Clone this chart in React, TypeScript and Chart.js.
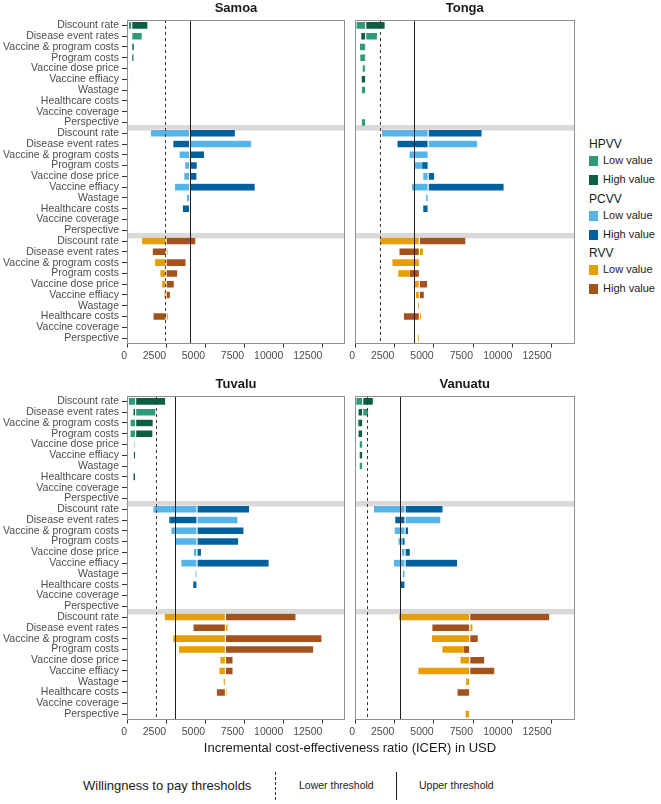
import React, { useEffect, useRef } from 'react';
import { Chart, registerables } from 'chart.js';

Chart.register(...registerables);

const FONT = "'Liberation Sans', Arial, sans-serif";

// Parameters varied in the one-way sensitivity analysis (rows of every vaccine block)
const parameters = [
  'Discount rate',
  'Disease event rates',
  'Vaccine & program costs',
  'Program costs',
  'Vaccine dose price',
  'Vaccine effiacy',
  'Wastage',
  'Healthcare costs',
  'Vaccine coverage',
  'Perspective',
];
const vaccines = ['HPVV', 'PCVV', 'RVV'];
const xTickValues = [0, 2500, 5000, 7500, 10000, 12500];
const xAxisMax = 13950;

// ICER (USD) at base case, and with each parameter at its low / high value
// Samoa
const samoaBase = [300, 4010, 2500];
const samoaHpvvLow = [85, 980, 240, 250, 280, 300, 300, 340, 300, 300];
const samoaHpvvHigh = [1340, 260, 470, 450, 360, 380, 300, 300, 300, 300];
const samoaPcvvLow = [1490, 7980, 3330, 3690, 3630, 3030, 3800, 4010, 4010, 4060];
const samoaPcvvHigh = [6940, 2930, 4970, 4500, 4480, 8210, 4010, 3540, 4010, 4010];
const samoaRvvLow = [930, 2630, 1760, 2100, 2210, 2360, 2420, 2650, 2500, 2580];
const samoaRvvHigh = [4410, 1610, 3780, 3250, 3030, 2780, 2500, 1660, 2500, 2500];
const samoaThresholds = [2440, 4010];

// Tonga
const tongaBase = [680, 4650, 4090];
const tongaHpvvLow = [60, 1430, 280, 300, 450, 680, 400, 680, 680, 400];
const tongaHpvvHigh = [1920, 360, 575, 575, 600, 390, 680, 680, 680, 680];
const tongaPcvvLow = [1680, 7800, 3430, 3730, 4300, 3580, 4480, 4650, 4650, 4600];
const tongaPcvvHigh = [8080, 2660, 4700, 4240, 5070, 9480, 4650, 4300, 4650, 4650];
const tongaRvvLow = [1560, 4350, 2340, 2710, 3750, 3840, 3960, 4220, 4090, 3960];
const tongaRvvHigh = [7050, 2790, 3990, 3450, 4620, 4410, 4090, 3070, 4090, 4090];
const tongaThresholds = [1620, 3730];

// Tuvalu
const tuvaluBase = [550, 4480, 6300];
const tuvaluHpvvLow = [85, 1850, 190, 190, 450, 550, 470, 550, 550, 470];
const tuvaluHpvvHigh = [2480, 380, 1680, 1660, 550, 400, 550, 380, 550, 550];
const tuvaluPcvvLow = [1660, 7110, 2800, 3080, 4240, 3440, 4350, 4480, 4480, 4480];
const tuvaluPcvvHigh = [7850, 2670, 7490, 7150, 4770, 9100, 4480, 4200, 4480, 4480];
const tuvaluRvvLow = [2380, 6470, 2930, 3290, 5940, 5880, 6150, 6410, 6300, 6240];
const tuvaluRvvHigh = [10820, 4220, 12480, 11950, 6790, 6790, 6300, 5710, 6300, 6300];
const tuvaluThresholds = [1870, 3060];

// Vanuatu
const vanuatuBase = [490, 3180, 7290];
const vanuatuHpvvLow = [45, 870, 150, 490, 260, 490, 260, 490, 490, 490];
const vanuatuHpvvHigh = [1170, 190, 235, 190, 490, 260, 490, 490, 490, 490];
const vanuatuPcvvLow = [1170, 5460, 2490, 2730, 2940, 2430, 3000, 3180, 3130, 3130];
const vanuatuPcvvHigh = [5600, 2520, 3410, 3000, 3520, 6520, 3180, 2860, 3180, 3180];
const vanuatuRvvLow = [2770, 7500, 4860, 5520, 6670, 3990, 7030, 7370, 7290, 6990];
const vanuatuRvvHigh = [12380, 4880, 7840, 6880, 8250, 8890, 7290, 6480, 7290, 7290];
const vanuatuThresholds = [750, 2830];

const lowColors = ['#2f9a7b', '#56b4e9', '#e69f00'];
const highColors = ['#0d5e45', '#00619c', '#a3521c'];

type PanelSpec = {
  country: string;
  base: number[];
  lows: number[][];
  highs: number[][];
  thresholds: number[];
  showY: boolean;
  left: number;
  top: number;
};

const CANVAS_H = 372;
const LEFT_W = 352;
const RIGHT_W = 235;

const panels: PanelSpec[] = [
  {
    country: 'Samoa', base: samoaBase,
    lows: [samoaHpvvLow, samoaPcvvLow, samoaRvvLow],
    highs: [samoaHpvvHigh, samoaPcvvHigh, samoaRvvHigh],
    thresholds: samoaThresholds, showY: true, left: 0, top: 0,
  },
  {
    country: 'Tonga', base: tongaBase,
    lows: [tongaHpvvLow, tongaPcvvLow, tongaRvvLow],
    highs: [tongaHpvvHigh, tongaPcvvHigh, tongaRvvHigh],
    thresholds: tongaThresholds, showY: false, left: 345, top: 0,
  },
  {
    country: 'Tuvalu', base: tuvaluBase,
    lows: [tuvaluHpvvLow, tuvaluPcvvLow, tuvaluRvvLow],
    highs: [tuvaluHpvvHigh, tuvaluPcvvHigh, tuvaluRvvHigh],
    thresholds: tuvaluThresholds, showY: true, left: 0, top: 376,
  },
  {
    country: 'Vanuatu', base: vanuatuBase,
    lows: [vanuatuHpvvLow, vanuatuPcvvLow, vanuatuRvvLow],
    highs: [vanuatuHpvvHigh, vanuatuPcvvHigh, vanuatuRvvHigh],
    thresholds: vanuatuThresholds, showY: false, left: 345, top: 376,
  },
];

// Draws the block separators, threshold lines, panel frame and panel title
const panelDecor = {
  id: 'panelDecor',
  beforeDatasetsDraw(chart: any, _args: any, opts: any) {
    const { ctx, chartArea: a, scales } = chart;
    const y = scales.y;
    ctx.save();
    ctx.fillStyle = '#d9d9d9';
    for (let g = 1; g < vaccines.length; g++) {
      const i = g * parameters.length;
      const mid = (y.getPixelForValue(i - 1) + y.getPixelForValue(i)) / 2;
      ctx.fillRect(a.left, mid - 2.75, a.right - a.left + (opts.bandExtend || 0), 5.5);
    }
    ctx.restore();
  },
  afterDatasetsDraw(chart: any, _args: any, opts: any) {
    const { ctx, chartArea: a, scales } = chart;
    const x = scales.x;
    ctx.save();
    const [lower, upper] = opts.thresholds;
    ctx.lineWidth = 1;
    ctx.strokeStyle = '#3a3a3a';
    ctx.setLineDash([3, 3]);
    let px = Math.round(x.getPixelForValue(lower)) + 0.5;
    ctx.beginPath();
    ctx.moveTo(px, a.top);
    ctx.lineTo(px, a.bottom);
    ctx.stroke();
    ctx.setLineDash([]);
    ctx.strokeStyle = '#1e1e1e';
    px = Math.round(x.getPixelForValue(upper)) + 0.5;
    ctx.beginPath();
    ctx.moveTo(px, a.top);
    ctx.lineTo(px, a.bottom);
    ctx.stroke();

    ctx.strokeStyle = '#8f8f8f';
    ctx.lineWidth = 1;
    ctx.strokeRect(Math.round(a.left) + 0.5, Math.round(a.top) + 0.5,
      Math.round(a.right - a.left) - 1, Math.round(a.bottom - a.top) - 1);

    ctx.fillStyle = '#1a1a1a';
    ctx.font = `bold 13px ${FONT}`;
    ctx.textAlign = 'center';
    ctx.textBaseline = 'alphabetic';
    ctx.fillText(opts.title, (a.left + a.right) / 2, a.top - 8);
    ctx.restore();
  },
};

function Panel({ spec }: { spec: PanelSpec }) {
  const ref = useRef<HTMLCanvasElement>(null);
  useEffect(() => {
    const labels = vaccines.flatMap(() => parameters);
    const n = parameters.length;
    const datasets: any[] = [];
    vaccines.forEach((v, g) => {
      const build = (vals: number[]) =>
        labels.map((_, i) => {
          if (Math.floor(i / n) !== g) return null;
          const val = vals[i % n];
          return val === spec.base[g] ? null : [spec.base[g], val];
        });
      datasets.push({
        label: `${v} High value`,
        data: build(spec.highs[g]),
        backgroundColor: highColors[g],
        borderColor: 'rgba(255,255,255,0.55)',
        borderWidth: 0.6,
        borderSkipped: false,
        grouped: false,
        order: 0,
      });
      datasets.push({
        label: `${v} Low value`,
        data: build(spec.lows[g]),
        backgroundColor: lowColors[g],
        borderColor: 'rgba(255,255,255,0.55)',
        borderWidth: 0.6,
        borderSkipped: false,
        grouped: false,
        order: 1,
      });
    });

    const width = spec.showY ? LEFT_W : RIGHT_W;
    const chart = new Chart(ref.current as HTMLCanvasElement, {
      type: 'bar',
      data: { labels, datasets },
      plugins: [panelDecor],
      options: {
        indexAxis: 'y',
        responsive: false,
        animation: false,
        events: [],
        datasets: { bar: { barPercentage: 0.72, categoryPercentage: 1 } },
        layout: {
          padding: spec.showY
            ? { top: 20, left: 0, right: width - 345, bottom: 0 }
            : { top: 20, left: 10, right: width - 229.5, bottom: 0 },
        },
        plugins: {
          legend: { display: false },
          tooltip: { enabled: false },
          title: { display: false },
          panelDecor: {
            thresholds: spec.thresholds,
            title: spec.country,
            bandExtend: 0,
          },
        } as any,
        scales: {
          x: {
            type: 'linear',
            min: 0,
            max: xAxisMax,
            afterBuildTicks: (s: any) => {
              s.ticks = xTickValues.map((value) => ({ value }));
            },
            afterFit: (s: any) => {
              s.height = 28.5;
            },
            ticks: {
              align: 'end',
              autoSkip: false,
              maxRotation: 0,
              padding: 2,
              color: '#4d4d4d',
              font: { family: FONT, size: 10.5 },
              callback: (v: any) => String(v),
            },
            grid: { drawOnChartArea: false, tickLength: 4, tickColor: '#333333' },
            border: { display: false },
          },
          y: {
            type: 'category',
            display: spec.showY,
            offset: true,
            afterFit: (s: any) => {
              if (spec.showY) s.width = 127;
            },
            ticks: {
              autoSkip: false,
              padding: 3,
              color: '#4d4d4d',
              font: { family: FONT, size: 10.5 },
            },
            grid: { drawOnChartArea: false, offset: false, tickLength: 5, tickColor: '#333333' },
            border: { display: false },
          },
        } as any,
      },
    } as any);
    return () => chart.destroy();
  }, [spec]);

  return (
    <canvas
      ref={ref}
      width={spec.showY ? LEFT_W : RIGHT_W}
      height={CANVAS_H}
      style={{ position: 'absolute', left: spec.left, top: spec.top }}
    />
  );
}

const legendTitleStyle: React.CSSProperties = {
  position: 'absolute',
  left: 589,
  font: `12px ${FONT}`,
  color: '#1a1a1a',
  lineHeight: '14px',
  whiteSpace: 'nowrap',
};

function LegendItem({ top, color, text }: { top: number; color: string; text: string }) {
  return (
    <div style={{ position: 'absolute', left: 589, top, height: 12, whiteSpace: 'nowrap' }}>
      <div style={{ position: 'absolute', left: 0, top: 1, width: 9, height: 10, background: color }} />
      <div style={{ position: 'absolute', left: 14, top: -1, font: `11px ${FONT}`, color: '#1a1a1a', lineHeight: '13px' }}>
        {text}
      </div>
    </div>
  );
}

export default function App() {
  const legendTops = [137, 192, 246];
  return (
    <div style={{ position: 'absolute', left: 0, top: 0, width: 661, height: 804, background: '#ffffff', overflow: 'hidden' }}>
      {panels.map((p) => (
        <Panel key={p.country} spec={p} />
      ))}

      {vaccines.map((v, g) => (
        <React.Fragment key={v}>
          <div style={{ ...legendTitleStyle, top: legendTops[g] }}>{v}</div>
          <LegendItem top={legendTops[g] + 18} color={lowColors[g]} text="Low value" />
          <LegendItem top={legendTops[g] + 37} color={highColors[g]} text="High value" />
        </React.Fragment>
      ))}

      <div
        style={{
          position: 'absolute', left: 0, width: 700, top: 740, textAlign: 'center',
          font: `13px ${FONT}`, color: '#1a1a1a', lineHeight: '16px',
        }}
      >
        Incremental cost-effectiveness ratio (ICER) in USD
      </div>

      <div style={{ position: 'absolute', left: 83, top: 778, font: `13px ${FONT}`, color: '#1a1a1a', lineHeight: '16px', whiteSpace: 'nowrap' }}>
        Willingness to pay thresholds
      </div>
      <div style={{ position: 'absolute', left: 275, top: 772, width: 0, height: 28, borderLeft: '1px dashed #333' }} />
      <div style={{ position: 'absolute', left: 299, top: 779, font: `10.5px ${FONT}`, color: '#1a1a1a', lineHeight: '13px', whiteSpace: 'nowrap' }}>
        Lower threshold
      </div>
      <div style={{ position: 'absolute', left: 396, top: 772, width: 0, height: 28, borderLeft: '1px solid #1e1e1e' }} />
      <div style={{ position: 'absolute', left: 419, top: 779, font: `10.5px ${FONT}`, color: '#1a1a1a', lineHeight: '13px', whiteSpace: 'nowrap' }}>
        Upper threshold
      </div>
    </div>
  );
}
